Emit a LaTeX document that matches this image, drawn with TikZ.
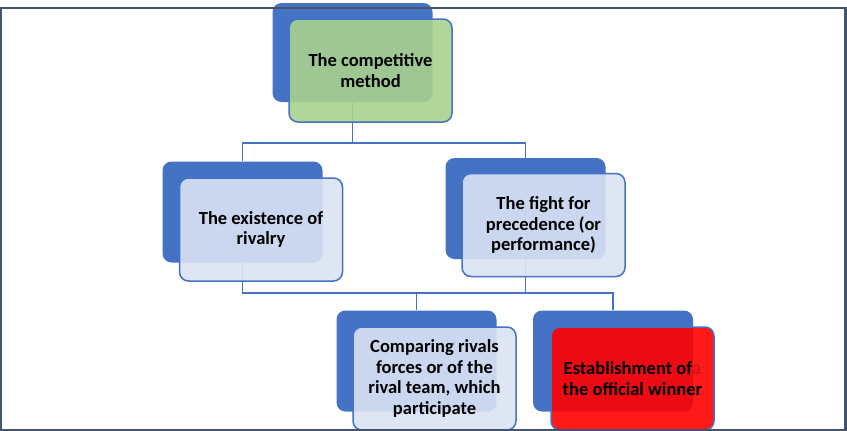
\documentclass[tikz,border=0pt]{standalone}
\usepackage{fontspec}
\setmainfont{Carlito}
\usetikzlibrary{calc}

\definecolor{boxblue}{HTML}{4472C4}
\definecolor{paleblue}{HTML}{DAE3F3}
\definecolor{palegreen}{HTML}{A9D18E}
\definecolor{framegray}{HTML}{44546A}
\definecolor{darkred}{HTML}{D8101A}

\tikzset{
  backbox/.style={shape=rectangle, fill=boxblue, rounded corners=9pt,
    minimum width=160pt, minimum height=101pt},
  frontbox/.style={shape=rectangle, draw=boxblue, line width=1.5pt,
    rounded corners=9pt, fill opacity=0.9, text opacity=1,
    minimum width=163pt, minimum height=103pt, align=center,
    font=\bfseries\fontsize{18.5}{20.8}\selectfont},
  link/.style={draw=boxblue, line width=1.6pt}
}

\begin{document}
\begin{tikzpicture}[x=1pt, y=-1pt]
  \useasboundingbox (0,0) rectangle (847,431);

  % back boxes
  \path (352.5,52.5) node [backbox, minimum height=99pt] (b1) {};
  \path (242.5,212) node [backbox] (b2) {};
  \path (525.5,208.5) node [backbox] (b3) {};
  \path (416.5,361) node [backbox] (b4) {};
  \path (613,361) node [backbox] (b5) {};

  % connectors
  \draw [link] (b1.south) -- ++(0,41) coordinate (j1) -| (b2.north);
  \draw [link] (j1) -| (b3.north);
  \draw [link] (b2.south) -- ++(0,30) coordinate (j2) -| (b4.north);
  \draw [link] (j2) -| (b5.north);
  \draw [link] (b3.south) -- (b3.south |- j2);

  % front boxes
  \path (370.5,70.5) node [frontbox, fill=palegreen] (f1) {The competitive\\method};
  \path (261,229.5) node [frontbox, fill=paleblue] (f2) {The existence of\\rivalry};
  \path (543.5,225) node [frontbox, fill=paleblue] (f3) {The fight for\\precedence (or\\performance)};
  \path (434.5,378.5) node [frontbox, fill=paleblue] (f4) {Comparing rivals\\forces or of the\\rival team, which\\participate};
  \path (632.5,378.5) node [frontbox, fill=red] (f5) {Establishment of{\color{darkred}a}\\the official winner};

  \draw [framegray, line width=2.2pt] (1,8) rectangle (845.5,429.8);
\end{tikzpicture}
\end{document}
